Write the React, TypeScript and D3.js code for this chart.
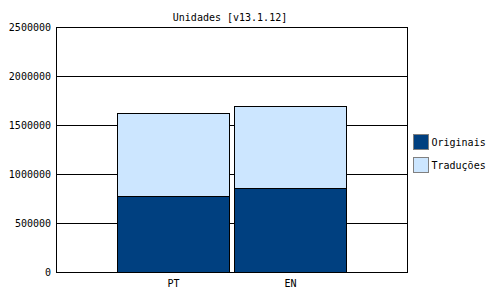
import React from "react";
import * as d3 from "d3";

const categories = ["PT", "EN"];
const originais = [776000, 857000];
const traducoes = [846000, 837000];
const seriesNames = ["Originais", "Traduções"];
const seriesColors = ["#004080", "#cce6ff"];
const yTicks = [0, 500000, 1000000, 1500000, 2000000, 2500000];
const title = "Unidades [v13.1.12]";

export default function App() {
  const W = 500, H = 300;
  const left = 56.5, right = 407.5, top = 27.5, bottom = 272.5;
  const y = d3.scaleLinear().domain([0, 2500000]).range([bottom, top]);
  const x = d3.scalePoint<string>().domain(categories).range([left, right]).padding(1);
  const bw = 112;
  const font = "'DejaVu Sans Mono', monospace";
  const py = (v: number) => Math.floor(y(v)) + 0.5;
  const stacked = categories.map((c, i) => ({ c, o: originais[i], t: traducoes[i] }));
  return (
    <svg width={W} height={H} style={{ position: "absolute", left: 0, top: 0 }} fontFamily={font} fontSize={10}>
      <rect x={0} y={0} width={W} height={H} fill="#fff" />
      <text x={230} y={21} textAnchor="middle">{title}</text>
      {yTicks.map((t) => (
        <g key={t}>
          <line x1={left} x2={right} y1={py(t)} y2={py(t)} stroke="#000" />
          <text x={51} y={py(t) + 3.5} textAnchor="end">{t}</text>
        </g>
      ))}
      {stacked.map((d) => {
        const cx = x(d.c)!;
        const x0 = Math.floor(cx - bw / 2) + 0.5;
        const yo = py(d.o);
        const yt = py(d.o + d.t);
        return (
          <g key={d.c}>
            <rect x={x0} y={yo} width={bw} height={bottom - yo} fill={seriesColors[0]} stroke="#000" />
            <rect x={x0} y={yt} width={bw} height={yo - yt} fill={seriesColors[1]} stroke="#000" />
            <text x={cx} y={287} textAnchor="middle">{d.c}</text>
          </g>
        );
      })}
      <rect x={left} y={top} width={right - left} height={bottom - top} fill="none" stroke="#000" />
      {seriesNames.map((n, i) => (
        <g key={n}>
          <rect x={413.5} y={134.5 + i * 23} width={15} height={15} fill={seriesColors[i]} stroke="#808080" />
          <text x={431.5} y={146 + i * 23}>{n}</text>
        </g>
      ))}
    </svg>
  );
}
